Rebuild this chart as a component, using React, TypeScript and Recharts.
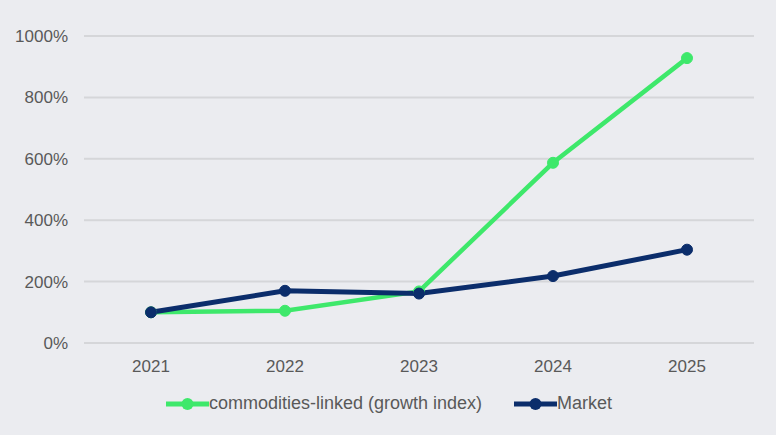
import { LineChart, Line, XAxis, YAxis, CartesianGrid, Legend } from 'recharts';

const years = ['2021', '2022', '2023', '2024', '2025'];
const commodities = [100, 105, 168, 587, 928];
const market = [100, 170, 161, 218, 304];
const yTicks = [0, 200, 400, 600, 800, 1000];

const GREEN = '#3ee86b';
const NAVY = '#0b2d6b';
const TEXT = '#595959';

const data = years.map((year, i) => ({
  year,
  commodities: commodities[i],
  market: market[i],
}));

const legendItems = [
  { label: 'commodities-linked (growth index)', color: GREEN },
  { label: 'Market', color: NAVY },
];

const ChartLegend = () => (
  <div style={{ display: 'flex', justifyContent: 'center', alignItems: 'center', paddingLeft: 24 }}>
    {legendItems.map((item, i) => (
      <div key={item.label} style={{ display: 'flex', alignItems: 'center', marginLeft: i ? 32 : 0 }}>
        <svg width={43} height={14}>
          <line x1={0} y1={7} x2={43} y2={7} stroke={item.color} strokeWidth={5} />
          <circle cx={21.5} cy={7} r={6} fill={item.color} />
        </svg>
        <span style={{ color: TEXT, fontSize: 18 }}>{item.label}</span>
      </div>
    ))}
  </div>
);

const App = () => {
  return (
    <div
      style={{
        position: 'absolute',
        top: 0,
        left: 0,
        width: 776,
        height: 435,
        background: '#ebecf0',
        fontFamily: 'Arial, "Liberation Sans", sans-serif',
      }}
    >
      <LineChart
        width={776}
        height={435}
        data={data}
        margin={{ top: 36, right: 22, left: 0, bottom: 6 }}
      >
        <CartesianGrid vertical={false} stroke="#d5d6d9" strokeWidth={2} />
        <XAxis
          dataKey="year"
          axisLine={false}
          tickLine={false}
          padding={{ left: 67, right: 67 }}
          tick={{ fill: TEXT, fontSize: 17 }}
          tickMargin={11}
          height={50}
        />
        <YAxis
          domain={[0, 1000]}
          ticks={yTicks}
          width={84}
          axisLine={false}
          tickLine={false}
          tickMargin={10}
          tick={{ fill: TEXT, fontSize: 17 }}
          tickFormatter={(v) => `${v}%`}
        />
        <Legend verticalAlign="bottom" height={36} content={<ChartLegend />} />
        <Line
          dataKey="commodities"
          name="commodities-linked (growth index)"
          stroke={GREEN}
          strokeWidth={4.5}
          dot={{ r: 5.5, fill: GREEN, stroke: GREEN, strokeWidth: 1 }}
          isAnimationActive={false}
        />
        <Line
          dataKey="market"
          name="Market"
          stroke={NAVY}
          strokeWidth={5}
          dot={{ r: 5.5, fill: NAVY, stroke: NAVY, strokeWidth: 1 }}
          isAnimationActive={false}
        />
      </LineChart>
    </div>
  );
};

export default App;
